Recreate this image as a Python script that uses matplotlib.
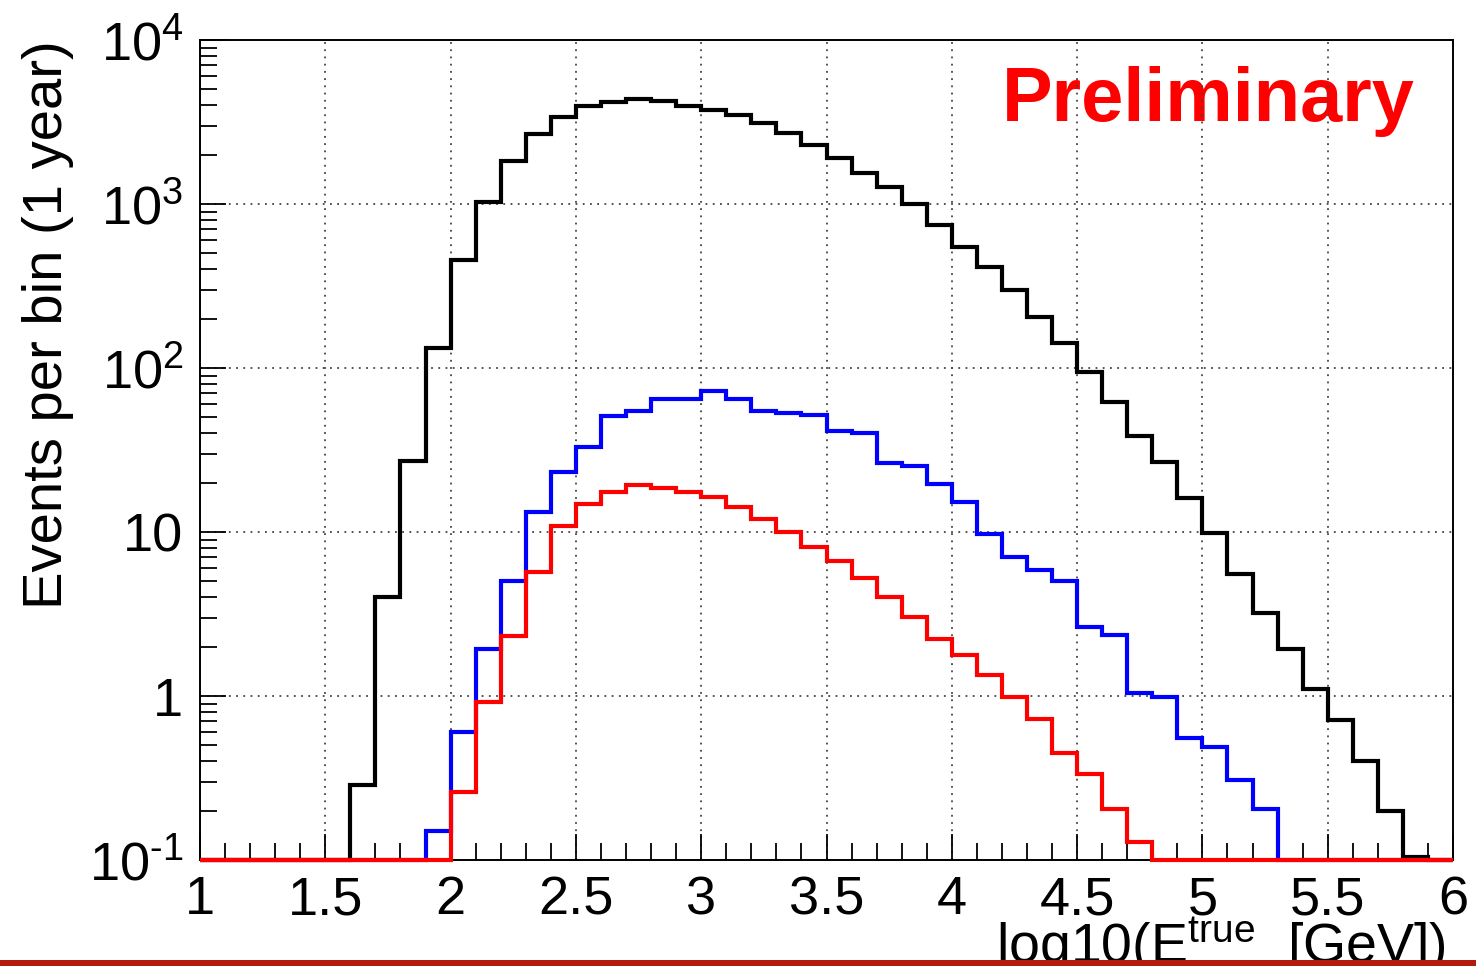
import numpy as np
import matplotlib
matplotlib.use("Agg")
from matplotlib import pyplot as plt
from matplotlib.patches import Rectangle
from matplotlib.ticker import MultipleLocator, LogLocator, FixedLocator, NullFormatter

plt.rcParams["font.family"] = ["Liberation Sans", "DejaVu Sans"]
plt.rcParams["mathtext.fontset"] = "custom"
plt.rcParams["mathtext.rm"] = "Liberation Sans"
plt.rcParams["mathtext.it"] = "Liberation Sans:italic"
plt.rcParams["mathtext.bf"] = "Liberation Sans:bold"

# bin edges: log10(E) from 1 to 6 in steps of 0.1
bin_edges = np.round(np.arange(1.0, 6.0001, 0.1), 1)

# events per bin (0 = empty bin)
total_events = [
    0, 0, 0, 0, 0, 0,
    0.288, 4.0, 27.2, 133,
    456, 1023, 1828, 2672, 3404, 3963, 4210, 4345, 4265, 3963,
    3740, 3490, 3105, 2700, 2290, 1900, 1540, 1275, 1000, 745,
    550, 415, 299, 206, 142, 95, 62, 38.5, 26.8, 16.1,
    9.9, 5.57, 3.21, 1.94, 1.10, 0.715, 0.404, 0.199, 0.105, 0,
]
blue_events = [
    0, 0, 0, 0, 0, 0, 0, 0, 0, 0.15,
    0.605, 1.94, 5.05, 13.3, 23.3, 33.1, 50.9, 54.7, 64.4, 64.7,
    72.4, 64.7, 54.5, 53.5, 52.0, 41.5, 40.0, 26.2, 25.3, 19.5,
    15.3, 9.7, 7.07, 5.86, 5.05, 2.65, 2.36, 1.04, 0.99, 0.552,
    0.491, 0.307, 0.206, 0, 0, 0, 0, 0, 0, 0,
]
red_events = [
    0, 0, 0, 0, 0, 0, 0, 0, 0, 0,
    0.259, 0.916, 2.32, 5.73, 10.9, 14.8, 17.6, 19.4, 18.5, 17.6,
    16.3, 14.2, 12.0, 10.0, 8.13, 6.68, 5.22, 4.04, 3.05, 2.23,
    1.78, 1.34, 0.99, 0.721, 0.448, 0.333, 0.204, 0.129, 0, 0,
    0, 0, 0, 0, 0, 0, 0, 0, 0, 0,
]

y_min, y_max = 0.1, 1e4
y_ticks = [1e-1, 1, 10, 1e2, 1e3, 1e4]
y_ticklabels = ["$10^{\u20101}$", "1", "10", r"$10^{2}$", r"$10^{3}$", r"$10^{4}$"]
x_ticks = [1, 1.5, 2, 2.5, 3, 3.5, 4, 4.5, 5, 5.5, 6]
x_ticklabels = ["1", "1.5", "2", "2.5", "3", "3.5", "4", "4.5", "5", "5.5", "6"]


def plot_spectrum():
    fig = plt.figure(figsize=(14.76, 9.66), dpi=100)
    ax = fig.add_axes([200 / 1476, 1 - 860 / 966, 1253 / 1476, 820 / 966])

    for vals, col in [(total_events, "black"), (blue_events, "#0000ff"), (red_events, "#ff0000")]:
        v = np.asarray(vals, dtype=float)
        v = np.where(v > 0, v, y_min)  # empty bins sit on the axis floor
        ax.stairs(v, bin_edges, baseline=None, color=col, lw=3.0, clip_on=False, zorder=3)

    ax.set_yscale("log")
    ax.set_xlim(1, 6)
    ax.set_ylim(y_min, y_max)

    ax.xaxis.set_major_locator(FixedLocator(x_ticks))
    ax.set_xticklabels(x_ticklabels)
    ax.xaxis.set_minor_locator(MultipleLocator(0.1))
    ax.yaxis.set_major_locator(FixedLocator(y_ticks))
    ax.set_yticklabels(y_ticklabels)
    ax.yaxis.set_minor_locator(LogLocator(base=10, subs=np.arange(2, 10)))
    ax.yaxis.set_minor_formatter(NullFormatter())

    ax.tick_params(which="both", direction="in", colors="black", labelsize=39, width=1.3)
    ax.tick_params(which="major", length=19)
    ax.tick_params(which="minor", length=12)
    ax.tick_params(axis="x", pad=11)
    ax.tick_params(axis="y", pad=12)

    for s in ax.spines.values():
        s.set_linewidth(1.4)

    ax.grid(True, which="major", color="#444444", linestyle=(0, (1, 3)), lw=1.3)

    ax.text(0.9697, 0.925, "Preliminary", transform=ax.transAxes, ha="right", va="center",
            color="#ff0000", fontsize=54.5, fontweight="bold", zorder=1)

    fig.text(48 / 1476, 1 - 40 / 966, "Events per bin (1 year)", rotation=90,
             ha="center", va="top", fontsize=40.5)
    fig.text(1446 / 1476, 0.002, r"log10(E$^{\rm true}$  [GeV])", ha="right",
             va="baseline", fontsize=40)

    fig.patches.append(Rectangle((0, 0), 1, 6 / 966, transform=fig.transFigure,
                                 facecolor="#b31a0b", edgecolor="none", zorder=10))
    return fig


if __name__ == "__main__":
    fig = plot_spectrum()
    fig.savefig("out.png", dpi=100)
